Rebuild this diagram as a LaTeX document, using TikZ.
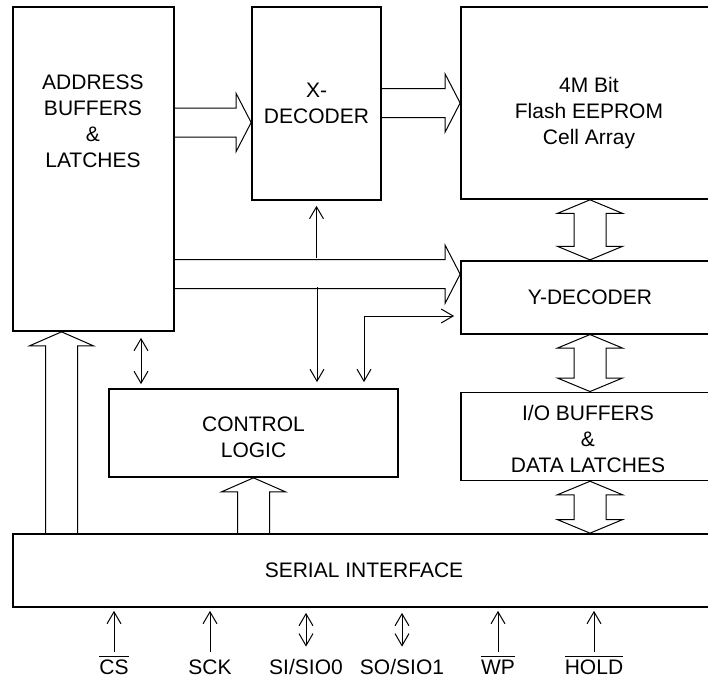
\documentclass[tikz,border=0pt]{standalone}
\usepackage{fontspec}
\setmainfont{Liberation Sans}
\usetikzlibrary{positioning,calc,arrows.meta}

\tikzset{
  txt/.style={align=center, font=\fontsize{10.5}{13}\selectfont},
  block/.style={txt, draw, line width=0.85pt, inner sep=0pt},
  sig/.style={line width=0.5pt, -{Straight Barb[length=6pt,width=7pt]}},
  dsig/.style={line width=0.5pt, {Straight Barb[length=6pt,width=7pt]}-{Straight Barb[length=6pt,width=7pt]}},
  bus/.style={line width=0.5pt, line join=miter},
  pinlbl/.style={txt, text height=10pt, text depth=0pt, inner sep=1pt, on grid},
}

\newcommand{\hbus}[2]{%
  \draw[bus] let \p1=(#1), \p2=(#2) in
    (\x1,\y2+7.25pt) -- (\x2-7.5pt,\y2+7.25pt) -- (\x2-7.5pt,\y2+14.5pt) -- (\x2,\y2)
    -- (\x2-7.5pt,\y2-14.5pt) -- (\x2-7.5pt,\y2-7.25pt) -- (\x1,\y2-7.25pt);}
\newcommand{\vbus}[2]{%
  \draw[bus] let \p1=(#1), \p2=(#2) in
    (\x2-8pt,\y1) -- (\x2-8pt,\y2-7pt) -- (\x2-16pt,\y2-7pt) -- (\x2,\y2)
    -- (\x2+16pt,\y2-7pt) -- (\x2+8pt,\y2-7pt) -- (\x2+8pt,\y1);}
\newcommand{\dbus}[2]{%
  \draw[bus] let \p1=(#1), \p2=(#2) in
    (\x1,\y1) -- (\x1+16.25pt,\y1-6.75pt) -- (\x1+8pt,\y1-6.75pt) -- (\x1+8pt,\y2+6.75pt)
    -- (\x1+16.25pt,\y2+6.75pt) -- (\x1,\y2) -- (\x1-16.25pt,\y2+6.75pt) -- (\x1-8pt,\y2+6.75pt)
    -- (\x1-8pt,\y1-6.75pt) -- (\x1-16.25pt,\y1-6.75pt) -- cycle;}

\begin{document}
\begin{tikzpicture}[x=0.5pt, y=-0.5pt]
  \useasboundingbox (0,0) rectangle (708,680);
  \clip (0,0) rectangle (708,680);

  \node[block, minimum width=80.5pt, minimum height=162pt] (addr) at (93.5,169) {};
  \node[txt] (addr-t) at (93,121.5) {ADDRESS\\BUFFERS\\\&\\LATCHES};
  \node[block, minimum width=64.5pt, minimum height=96.5pt] (xdec) at (316.5,103.5) {X-\\DECODER};
  \node[block, minimum width=129pt, minimum height=96pt] (flash) at (590,103) {};
  \node[txt] (flash-t) at (589,113) {4M Bit\\Flash EEPROM\\Cell Array};
  \node[block, minimum width=129pt, minimum height=36.5pt, below=30pt of flash] (ydec) {Y-DECODER};
  \node[block, minimum width=129pt, minimum height=44pt, below=28.5pt of ydec] (io) {};
  \node[txt] (io-t) at (588,438.5) {I/O BUFFERS\\\&\\DATA LATCHES};
  \node[block, minimum width=144.5pt, minimum height=44pt] (ctrl) at (253.5,433) {};
  \node[txt] (ctrl-t) at (253.5,437.5) {CONTROL\\LOGIC};
  \node[block, minimum width=351pt, minimum height=36.5pt] (serial) at (364,570.5) {SERIAL INTERFACE};

  \hbus{addr.east}{$(xdec.west)+(0,19)$}
  \hbus{xdec.east}{flash.west}
  \hbus{addr.east}{$(ydec.west)+(0,-23)$}

  \coordinate (busa) at (316.5,258);
  \coordinate (busb) at (317,287);
  \coordinate (ybend) at (364,316);
  \coordinate (alink) at (141,0);
  \draw[sig, shorten >=2.5pt] (xdec.south |- busa) -- (xdec.south);
  \draw[sig, shorten >=3pt] (busb) -- (busb |- ctrl.north);
  \draw[dsig, shorten <=3pt, shorten >=3pt] (ybend |- ctrl.north) -- (ybend) -- (ybend -| ydec.west);
  \draw[dsig, shorten <=3pt, shorten >=2pt] (alink |- addr.south) -- (alink |- ctrl.north);

  \vbus{serial.north}{$(addr.south)+(-32,0)$}
  \vbus{serial.north}{ctrl.south}
  \dbus{flash.south}{ydec.north}
  \dbus{ydec.south}{io.north}
  \dbus{io.south}{io.south |- serial.north}

  \node[pinlbl] (cs) at (114,664) {$\overline{\hbox{CS}}$};
  \node[pinlbl, right=48pt of cs] (sck) {SCK};
  \node[pinlbl, right=48pt of sck] (si) {SI/SIO0};
  \node[pinlbl, right=48pt of si] (so) {SO/SIO1};
  \node[pinlbl, right=48pt of so] (wp) {$\overline{\hbox{WP}}$};
  \node[pinlbl, right=48pt of wp] (hold) {$\overline{\hbox{HOLD}}$};

  \foreach \sname in {cs,sck,wp,hold}
    \draw[sig, shorten >=1.5pt] (\sname.north) -- (\sname.north |- serial.south);
  \foreach \sname in {si,so}
    \draw[dsig, shorten <=2.5pt, shorten >=2.5pt] (\sname.north) -- (\sname.north |- serial.south);
\end{tikzpicture}
\end{document}
